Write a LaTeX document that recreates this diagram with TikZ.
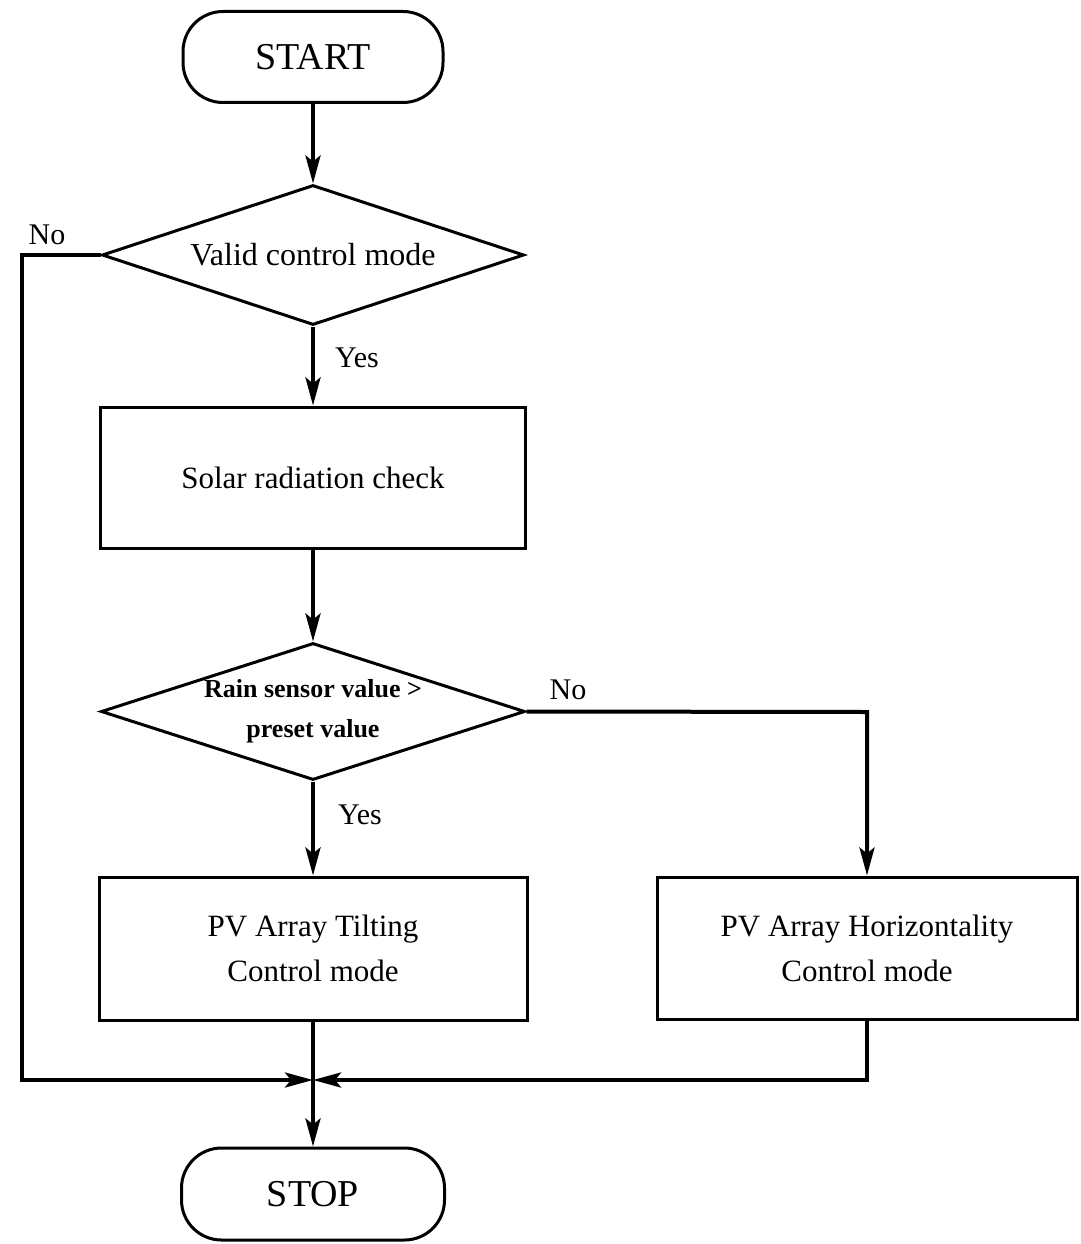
\documentclass[tikz,border=0pt]{standalone}
\usepackage{fontspec}
\setmainfont{Liberation Serif}
\usetikzlibrary{shapes.geometric,arrows.meta}
\begin{document}
\begin{tikzpicture}[x=1pt,y=-1pt,
  term/.style={draw, line width=3pt, rectangle, rounded corners=40pt, inner sep=0pt,
    font=\fontsize{38}{44}\selectfont},
  dec/.style={draw, line width=3pt, diamond, aspect=3, inner sep=0pt, align=center},
  box/.style={draw, line width=3pt, rectangle, inner sep=0pt, align=center,
    font=\fontsize{31}{45}\selectfont},
  arr/.style={line width=4pt, -{Stealth[length=28pt,width=15pt,inset=6pt]}},
  lab/.style={font=\fontsize{30}{36}\selectfont, inner sep=0pt}
]
\useasboundingbox (0,0) rectangle (1080,1244);
\node[term, minimum width=260pt, minimum height=91pt] (start) at (313,57) {START};
\node[dec, minimum width=422pt, minimum height=140pt, font=\fontsize{32}{38}\selectfont] (d1) at (313,255) {Valid control mode};
\node[box, minimum width=425pt, minimum height=141pt] (solar) at (313,477.5) {Solar radiation check};
\node[dec, minimum width=424pt, minimum height=137pt, font=\fontsize{26}{40}\selectfont\bfseries] (d2) at (313,711.5) {Rain sensor value >\\preset value};
\node[box, minimum width=428pt, minimum height=143pt] (left) at (313,948.5) {PV Array Tilting\\Control mode};
\node[box, minimum width=420pt, minimum height=142pt] (right) at (867,948) {PV Array Horizontality\\Control mode};
\node[term, minimum width=263pt, minimum height=92pt] (stop) at (313,1194) {STOP};

\coordinate (j) at (313,1080);
\coordinate (nl) at (22,255);
\coordinate (nb) at (22,1080);
\coordinate (rc) at (867,712);

\node[lab] (no1) at (47,235) {No};
\node[lab] (yes1) at (357,358) {Yes};
\node[lab] (no2) at (568,690) {No};
\node[lab] (yes2) at (360,815) {Yes};

\draw[arr] (start) -- (d1);
\draw[arr] (d1) -- (solar);
\draw[arr] (solar) -- (d2);
\draw[arr] (d2) -- (left);
\draw[arr, line join=miter] (d2.east) -- (rc) -- (right.north);
\draw[arr] (left) -- (stop);
\draw[arr, line join=miter] (d1.west) -- (nl) -- (nb) -- (j);
\draw[arr, line join=miter] (right.south) |- (j);
\end{tikzpicture}
\end{document}
